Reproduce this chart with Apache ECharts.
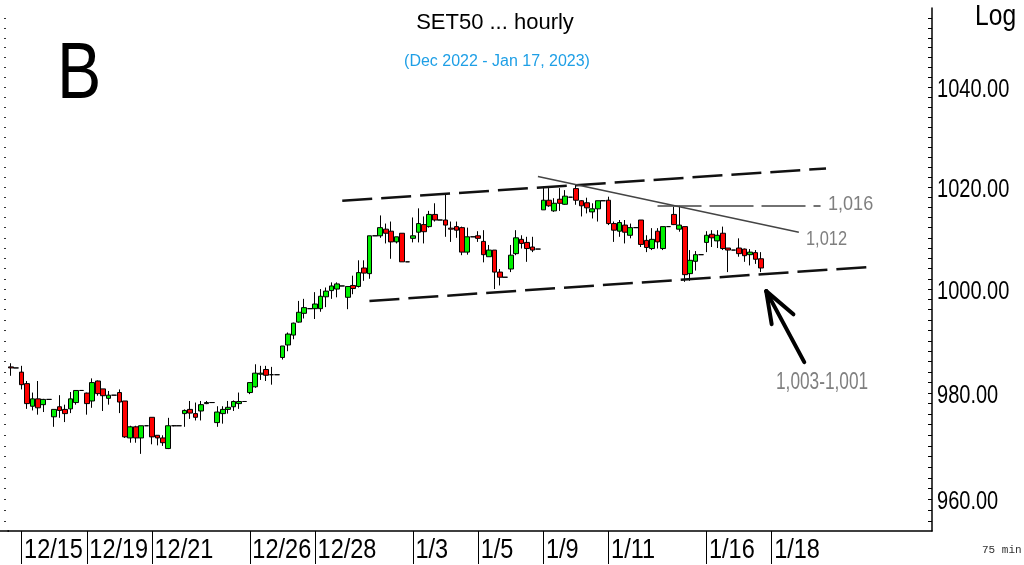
<!DOCTYPE html>
<html>
<head>
<meta charset="utf-8">
<script src="https://cdn.jsdelivr.net/npm/echarts@6/dist/echarts.min.js"></script>
<style>
html,body{margin:0;padding:0;background:#fff;}
#chart{width:1024px;height:565px;}
</style>
</head>
<body>
<div id="chart"></div>
<script>
// ---- trading days (12/14 shows only its last two bars; later days are empty future slots)
const days = ['12/14','12/15','12/16','12/19','12/20','12/21','12/22','12/23','12/26','12/27','12/28','12/29','12/30',
  '1/3','1/4','1/5','1/6','1/9','1/10','1/11','1/12','1/13','1/16','1/17','1/18','1/19','1/20','1/23','1/24'];
const labelDays = ['12/15','12/19','12/21','12/26','12/28','1/3','1/5','1/9','1/11','1/16','1/18'];
const yTickLabels = [960, 980, 1000, 1020, 1040];

// ---- 75-min bars: open / high / low / close
const opens = [985.0,984.8, 984.0,981.8,977.5,978.9,977.8,978.8, 975.5,977.4,976.9,977.0,978.2,980.5,
  980.0,978.5,982.3,980.8,979.0,979.6, 980.1,978.5,971.5,973.6,971.5,973.8, 975.4,972.0,971.5,969.5,973.8,973.8,
  976.1,976.9,976.1,976.6,978.0,978.2, 974.4,976.1,976.9,977.4,978.0,978.4, 980.1,981.2,983.6,984.5,983.5,983.5,
  986.8,989.2,991.1,993.6,995.3,996.2, 996.2,996.2,998.5,999.7,1000.0,1000.6, 998.4,1000.7,1000.5,1004.1,1003.0,1010.4,
  1010.4,1011.7,1011.3,1009.2,1010.9,1005.3, 1009.9,1011.1,1012.6,1012.2,1014.6,1013.5, 1013.5,1011.9,1012.2,1012.0,1007.2,1010.2,
  1010.4,1009.3,1006.3,1007.6,1003.3,1002.3, 1003.9,1006.9,1009.7,1009.1,1008.2,1007.8, 1015.5,1017.4,1015.3,1017.6,1016.6,1018.0,
  1019.7,1017.3,1016.9,1015.1,1015.7,1017.3, 1017.4,1012.8,1011.3,1012.5,1010.5,1012.0, 1013.5,1009.5,1007.9,1011.3,1007.9,1012.2,
  1014.6,1011.7,1012.2,1003.0,1005.4,1006.7, 1009.1,1010.7,1009.4,1010.9,1008.0,1007.6, 1008.0,1007.8,1006.7,1007.1,1005.9];
const highs = [985.7,984.8, 985.2,982.3,980.1,982.3,978.9,978.8, 976.9,979.6,977.8,980.2,980.5,980.5,
  980.1,982.8,982.4,980.8,980.4,979.6, 980.7,978.5,973.8,973.8,973.8,973.8, 975.4,972.0,972.0,975.3,973.9,973.8,
  976.9,978.5,978.2,978.5,978.5,978.2, 977.5,977.5,978.5,978.6,980.1,978.4, 982.0,985.5,985.2,985.2,985.0,983.5,
  989.0,991.6,993.5,997.7,998.1,996.2, 999.4,1000.0,1000.3,1001.3,1001.3,1000.6, 1000.5,1002.6,1005.6,1005.6,1010.4,1010.4,
  1014.4,1012.8,1013.2,1010.2,1010.9,1005.3, 1014.0,1015.8,1014.2,1015.3,1016.8,1013.5, 1018.8,1013.2,1013.2,1012.2,1012.0,1010.2,
  1011.3,1011.5,1008.6,1007.6,1003.9,1002.3, 1008.6,1011.5,1010.5,1010.2,1010.2,1007.8, 1020.1,1019.8,1017.8,1019.8,1019.4,1018.0,
  1020.5,1017.4,1017.9,1016.8,1017.3,1017.3, 1018.1,1013.2,1013.5,1013.5,1012.8,1012.0, 1013.5,1010.5,1011.9,1011.9,1012.2,1012.2,
  1016.1,1016.3,1012.2,1007.6,1007.4,1006.7, 1011.3,1011.5,1011.5,1012.2,1008.0,1007.6, 1009.9,1007.9,1007.8,1007.6,1007.2];
const lows = [983.3,984.8, 980.7,977.0,976.7,975.9,976.4,978.8, 973.6,975.3,974.5,976.2,977.8,980.5,
  975.9,977.2,979.5,976.6,977.8,979.6, 976.2,971.5,970.6,970.6,968.5,973.8, 970.3,970.1,970.0,969.4,973.7,973.8,
  973.6,975.1,974.8,974.8,977.9,978.2, 973.6,974.2,976.1,976.6,977.0,978.4, 979.8,981.0,982.5,982.3,981.6,983.5,
  986.4,988.0,990.3,993.5,994.3,996.2, 994.2,995.6,996.5,998.1,998.4,1000.6, 996.1,999.0,1000.3,1001.6,1002.0,1010.4,
  1010.0,1008.9,1005.9,1008.9,1005.3,1005.3, 1009.1,1009.1,1008.9,1012.0,1013.2,1013.5, 1010.2,1009.2,1010.0,1006.6,1006.7,1010.2,
  1009.2,1005.2,1006.3,1000.0,1000.7,1002.3, 1003.3,1006.6,1007.9,1005.3,1007.2,1007.8, 1015.5,1016.1,1015.1,1015.3,1016.5,1018.0,
  1016.5,1014.2,1014.8,1013.8,1013.2,1017.3, 1012.5,1009.2,1010.2,1008.9,1009.9,1012.0, 1008.2,1007.2,1007.6,1007.9,1007.6,1012.2,
  1012.5,1011.2,1001.4,1001.6,1003.6,1006.7, 1007.2,1008.2,1008.0,1007.6,1003.3,1007.6, 1006.3,1005.3,1004.6,1004.9,1003.3];
const closes = [984.8,984.8, 981.6,978.0,978.9,977.2,978.8,978.8, 976.9,976.7,976.1,978.9,980.5,980.5,
  978.0,982.0,979.9,979.5,979.6,979.6, 978.3,971.7,973.6,971.5,973.8,973.8, 971.7,971.5,970.6,973.8,973.8,973.8,
  976.7,976.2,975.4,977.8,978.2,978.2, 976.4,976.9,977.3,978.4,978.4,978.4, 982.0,983.8,983.8,983.4,983.5,983.5,
  989.0,991.3,993.4,995.5,996.4,996.2, 997.1,998.6,999.6,1000.6,1001.0,1000.6, 1000.5,1000.1,1003.2,1003.1,1010.4,1010.4,
  1012.0,1010.9,1009.2,1010.2,1005.3,1005.3, 1010.4,1012.8,1011.2,1014.6,1013.5,1013.5, 1012.5,1011.7,1011.5,1007.2,1010.2,1010.2,
  1009.9,1006.7,1007.6,1003.3,1002.3,1002.3, 1006.6,1010.0,1008.9,1007.9,1007.6,1007.8, 1017.4,1016.3,1016.8,1016.8,1018.2,1018.0,
  1017.4,1016.3,1015.9,1015.7,1017.3,1017.3, 1012.8,1011.5,1013.0,1011.1,1012.0,1012.0, 1008.7,1008.1,1009.7,1009.2,1012.2,1012.2,
  1012.6,1012.5,1002.8,1005.6,1006.7,1006.7, 1010.5,1010.0,1010.5,1007.9,1007.6,1007.6, 1006.9,1006.5,1007.2,1005.8,1004.1];

// ---- hand-drawn study lines, as [bar index, price] pairs
const upperChannel = [[60.6, 1017.3], [149.8, 1023.7]];
const lowerChannel = [[66.1, 997.7], [157.7, 1004.3]];
const downLine = [[97.0, 1022.1], [145.4, 1011.1]];
const level1016 = [[118.5, 1016.3], [149.4, 1016.3]];
const arrowShaft = [[146.3, 985.9], [139.15, 999.6]];
const arrowWingA = [[139.15, 999.6], [140.0, 993.2]];
const arrowWingB = [[139.15, 999.6], [143.9, 995.1]];

// ---- build categories: 6 bars per session
const categories = [];
days.forEach((d, di) => {
  for (let b = (di === 0 ? 5 : 1); b <= 6; b++) categories.push(d + ' #' + b);
});
const candles = opens.map((o, i) => [o, closes[i], lows[i], highs[i]]);
const labelCats = labelDays.map(d => d + ' #1');
const isLabelSlot = (idx, val) => labelCats.indexOf(String(val)) >= 0 || labelCats.indexOf(categories[idx]) >= 0;
const minorTicks = [];
for (let v = 956; v <= 1054; v += 2) minorTicks.push(v);

const SANS = "'Liberation Sans',Arial,sans-serif";
const Y_MIN = 954.1, Y_MAX = 1056.1;

const seg = (pts, ls) => [{coord: pts[0], lineStyle: ls}, {coord: pts[1]}];
const chanStyle = {color: '#111', width: 2.5, type: [30, 9]};
const arrowStyle = {color: '#000', width: 4, type: 'solid', cap: 'round'};

const chart = echarts.init(document.getElementById('chart'), null, {renderer: 'canvas'});
chart.setOption({
  animation: false,
  backgroundColor: '#fff',
  grid: {left: 8, right: 92, top: 8, bottom: 34},
  xAxis: {
    type: 'category',
    data: categories,
    boundaryGap: true,
    axisLine: {show: true, lineStyle: {color: '#000', width: 1.5}},
    axisTick: {show: true, alignWithLabel: true, interval: isLabelSlot, length: 33, lineStyle: {color: '#000', width: 1}},
    axisLabel: {show: false, interval: isLabelSlot, showMinLabel: true},
    splitLine: {show: false}
  },
  yAxis: [{
    type: 'log', logBase: 10, position: 'right', min: Y_MIN, max: Y_MAX,
    axisLine: {show: true, lineStyle: {color: '#000', width: 1.5}},
    axisTick: {show: true, inside: true, length: 4, customValues: minorTicks, lineStyle: {color: '#000'}},
    axisLabel: {show: false},
    splitLine: {show: false}
  }, {
    type: 'log', logBase: 10, position: 'left', min: Y_MIN, max: Y_MAX, offset: 2,
    axisLine: {show: false},
    axisTick: {show: true, inside: false, length: 2, customValues: minorTicks, lineStyle: {color: '#333'}},
    axisLabel: {show: false},
    splitLine: {show: false}
  }],
  series: [{
    type: 'candlestick',
    data: candles,
    barWidth: 5.2,
    itemStyle: {color: '#00f000', color0: '#ff0000', borderColor: '#000', borderColor0: '#000', borderWidth: 1},
    markLine: {
      silent: true, symbol: ['none', 'none'], label: {show: false}, animation: false,
      data: [
        seg(upperChannel, chanStyle),
        seg(lowerChannel, chanStyle),
        seg(downLine, {color: '#444', width: 1.5, type: 'solid'}),
        seg(level1016, {color: '#444', width: 1.5, type: [44, 8]}),
        seg(arrowShaft, arrowStyle),
        seg(arrowWingA, arrowStyle),
        seg(arrowWingB, arrowStyle)
      ]
    }
  }]
});

// ---- text: axis labels placed through the axes' own scales, drawn condensed like the source
const txt = (x, y, text, size, fill, sx, extra) => Object.assign({
  type: 'text', x: x, y: y, scaleX: sx, silent: true,
  style: {text: text, font: size + 'px ' + SANS, fill: fill, textVerticalAlign: 'middle'}
}, extra || {});
const graphics = [];
labelCats.forEach((c, k) => {
  const px = chart.convertToPixel({xAxisIndex: 0}, c);
  graphics.push(txt(px + 2.5, 550, labelDays[k], 28, '#000', 0.84));
});
yTickLabels.forEach(v => {
  const py = chart.convertToPixel({yAxisIndex: 0}, v);
  graphics.push(txt(937, py + 2.5, v.toFixed(2), 26, '#000', 0.77));
});
graphics.push(
  {type: 'line', silent: true, shape: {x1: 0, y1: 531, x2: 9, y2: 531}, style: {stroke: '#000', lineWidth: 1.5}},
  {type: 'text', x: 57, y: 37, scaleX: 0.84, silent: true, style: {text: 'B', font: '79px ' + SANS, fill: '#000'}},
  txt(495, 23, 'SET50 ... hourly', 22, '#000', 1, {style: {text: 'SET50 ... hourly', font: '22px ' + SANS, fill: '#000', textAlign: 'center', textVerticalAlign: 'middle'}}),
  {type: 'text', x: 497, y: 62, silent: true, style: {text: '(Dec 2022 - Jan 17, 2023)', font: '16px ' + SANS, fill: '#1e9fe6', textAlign: 'center', textVerticalAlign: 'middle'}},
  txt(975, 17, 'Log', 29, '#000', 0.85),
  txt(828, 204, '1,016', 21, '#7f7f7f', 0.86),
  txt(806, 239, '1,012', 20, '#7f7f7f', 0.82),
  txt(776, 383, '1,003-1,001', 23, '#7f7f7f', 0.75),
  {type: 'text', x: 982, y: 550, silent: true, style: {text: '75 min', font: '11px "Liberation Mono",monospace', fill: '#333', textVerticalAlign: 'middle'}}
);
chart.setOption({graphic: graphics});
</script>
</body>
</html>
